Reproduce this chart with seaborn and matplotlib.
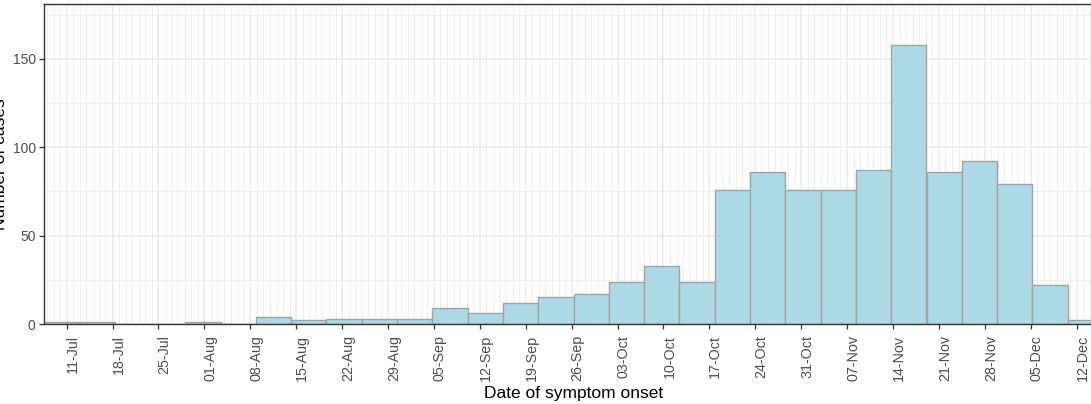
import numpy as np
import pandas as pd
import matplotlib
matplotlib.use("Agg")
import matplotlib.pyplot as plt
import matplotlib.dates as mdates
from matplotlib.transforms import ScaledTranslation
import seaborn as sns

# ---- data (30 equal bins) ----
bin_start = pd.Timestamp("2014-07-07 13:00")
bin_width_days = 5.383
case_counts = [1, 1, 0, 0, 1, 0, 4, 2, 3, 3,
               3, 9, 6, 12, 15, 17, 24, 33, 24, 76,
               86, 76, 76, 87, 158, 86, 92, 79, 22, 2]
tick_dates = pd.date_range("2014-07-11", "2014-12-12", freq="7D")
y_ticks = [0, 50, 100, 150]

sns.set_theme(style="whitegrid")
plt.rcParams["font.family"] = ["Liberation Sans", "DejaVu Sans"]

edges = mdates.date2num(bin_start) + bin_width_days * np.arange(len(case_counts) + 1)
centers = (edges[:-1] + edges[1:]) / 2
df = pd.DataFrame({"onset": centers, "cases": case_counts})

fig = plt.figure(figsize=(10.91, 4.04), dpi=100)
ax = fig.add_axes([44 / 1091, 80 / 404, (1103 - 44) / 1091, 320 / 404])

sns.histplot(data=df, x="onset", weights="cases", bins=list(edges), ax=ax,
             color="#ADD8E6", edgecolor="#A3A3A3", linewidth=1.0, alpha=1)

ax.set_xlim(edges[0], edges[-1])
ax.set_ylim(0, 181)
ax.xaxis_date()
ax.set_xticks(mdates.date2num(tick_dates))
ax.set_xticklabels([d.strftime("%d-%b") for d in tick_dates], rotation=90)
ax.xaxis.set_minor_locator(mdates.DayLocator())
ax.set_yticks(y_ticks)
ax.set_yticks([25, 75, 125, 175], minor=True)

ax.set_facecolor("white")
ax.set_axisbelow(True)
ax.grid(True, which="major", color="#EBEBEB", linewidth=1.1)
ax.grid(True, which="minor", color="#EBEBEB", linewidth=0.6)
for s in ax.spines.values():
    s.set_color("#333333")
    s.set_linewidth(1.0)

ax.tick_params(axis="both", which="major", length=3.5, width=0.9, color="#333333",
               labelcolor="#4D4D4D")
ax.tick_params(axis="x", labelsize=10.3, pad=4.5, bottom=True)
ax.tick_params(axis="y", labelsize=10, pad=2.5, left=True)
ax.tick_params(axis="both", which="minor", length=0)

# ggplot puts the rotated labels a bit right of their ticks
shift = ScaledTranslation(6 / 100, 0, fig.dpi_scale_trans)
for lab in ax.get_xticklabels():
    lab.set_transform(lab.get_transform() + shift)

ax.set_xlabel("Date of symptom onset", fontsize=12.5, color="black", labelpad=3)
ax.set_ylabel("")
fig.text(8 / 1091, 240 / 404, "Number of cases", rotation=90, ha="right", va="center",
         fontsize=12.5, color="black")

fig.savefig("out.png", dpi=100)
